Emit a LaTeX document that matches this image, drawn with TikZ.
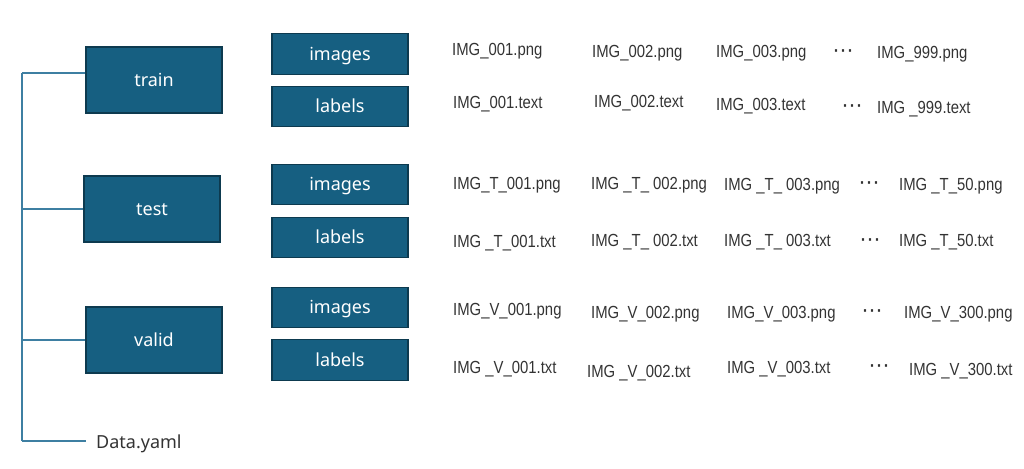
\documentclass[tikz,border=0pt]{standalone}
\usepackage{fontspec}
\setmainfont{Liberation Sans}
\newfontfamily\lblfont[FakeStretch=0.85]{Liberation Sans}
\newfontfamily\boxfont{Noto Sans}
\newfontfamily\dotfont{DejaVu Sans}
\definecolor{boxfill}{HTML}{165F81}
\definecolor{boxedge}{HTML}{0D3A4F}
\definecolor{linecol}{HTML}{3E7FA2}
\definecolor{txt}{HTML}{333333}
\begin{document}
\begin{tikzpicture}[x=1pt,y=-1pt,
  folder/.style={draw=boxedge, fill=boxfill, line width=1.3pt, text=white,
    font=\boxfont\fontsize{18}{20}\selectfont, text height=1.25em, text depth=0em,
    inner sep=0pt, minimum width=136pt},
  bigbox/.style={folder, minimum height=66pt},
  smallbox/.style={folder, minimum height=40.5pt},
  ft/.style={anchor=base west, inner sep=0pt, font=\lblfont\fontsize{17.5}{20}\selectfont,
    text=txt, yshift=-6.3pt},
  dts/.style={inner sep=0pt, text=txt, font=\dotfont\fontsize{21}{22}\selectfont},
  conn/.style={draw=linecol, line width=1.4pt}]
\useasboundingbox (0,0) rectangle (1024,468);

% main folders
\node[bigbox] (train) at (154,80) {train};
\node[bigbox] (test) at (152,209) {test};
\node[bigbox] (valid) at (154,340) {valid};

% sub folders
\node[smallbox] (img1) at (340,54) {images};
\node[smallbox] (lab1) at (340,106.5) {labels};
\node[smallbox] (img2) at (340,184.5) {images};
\node[smallbox] (lab2) at (340,237.5) {labels};
\node[smallbox] (img3) at (340,307.5) {images};
\node[smallbox] (lab3) at (340,360) {labels};

% Data.yaml
\node[anchor=base west, inner xsep=10pt, inner ysep=0pt, text=txt,
  font=\boxfont\fontsize{18}{20}\selectfont] (data) at (86,448) {Data.yaml};

% tree connectors
\coordinate (top) at (22,73);
\coordinate (bot) at (22,441);
\draw[conn] (top) -- (bot);
\draw[conn] (top) -- (top -| train.west);
\draw[conn] (test.west) -- (test.west -| top);
\draw[conn] (valid.west) -- (valid.west -| top);
\draw[conn] (bot) -- (bot -| data.west);

% train files
\node[ft] (a1) at (452,49) {IMG\_001.png};
\node[ft] (a2) at (592,51) {IMG\_002.png};
\node[ft] (a3) at (716,51) {IMG\_003.png};
\node[dts] (ad) at (843,54) {⋯};
\node[ft] (a4) at (877,52) {IMG\_999.png};

\node[ft] (b1) at (453,102) {IMG\_001.text};
\node[ft] (b2) at (594,101) {IMG\_002.text};
\node[ft] (b3) at (716,104) {IMG\_003.text};
\node[dts] (bd) at (852,109) {⋯};
\node[ft] (b4) at (877,107) {IMG \_999.text};

% test files
\node[ft] (c1) at (453,183) {IMG\_T\_001.png};
\node[ft] (c2) at (591,183) {IMG \_T\_ 002.png};
\node[ft] (c3) at (724,184) {IMG \_T\_ 003.png};
\node[dts] (cd) at (869,186) {⋯};
\node[ft] (c4) at (899,184) {IMG \_T\_50.png};

\node[ft] (d1) at (453,241) {IMG \_T\_001.txt};
\node[ft] (d2) at (591,240) {IMG \_T\_ 002.txt};
\node[ft] (d3) at (724,240) {IMG \_T\_ 003.txt};
\node[dts] (dd) at (870,243) {⋯};
\node[ft] (d4) at (899,240) {IMG \_T\_50.txt};

% valid files
\node[ft] (e1) at (453,309) {IMG\_V\_001.png};
\node[ft] (e2) at (591,312) {IMG\_V\_002.png};
\node[ft] (e3) at (727,312) {IMG\_V\_003.png};
\node[dts] (ed) at (872,314) {⋯};
\node[ft] (e4) at (904,312) {IMG\_V\_300.png};

\node[ft] (f1) at (453,367) {IMG \_V\_001.txt};
\node[ft] (f2) at (587,371) {IMG \_V\_002.txt};
\node[ft] (f3) at (727,367) {IMG \_V\_003.txt};
\node[dts] (fd) at (879,369) {⋯};
\node[ft] (f4) at (909,369) {IMG \_V\_300.txt};
\end{tikzpicture}
\end{document}
